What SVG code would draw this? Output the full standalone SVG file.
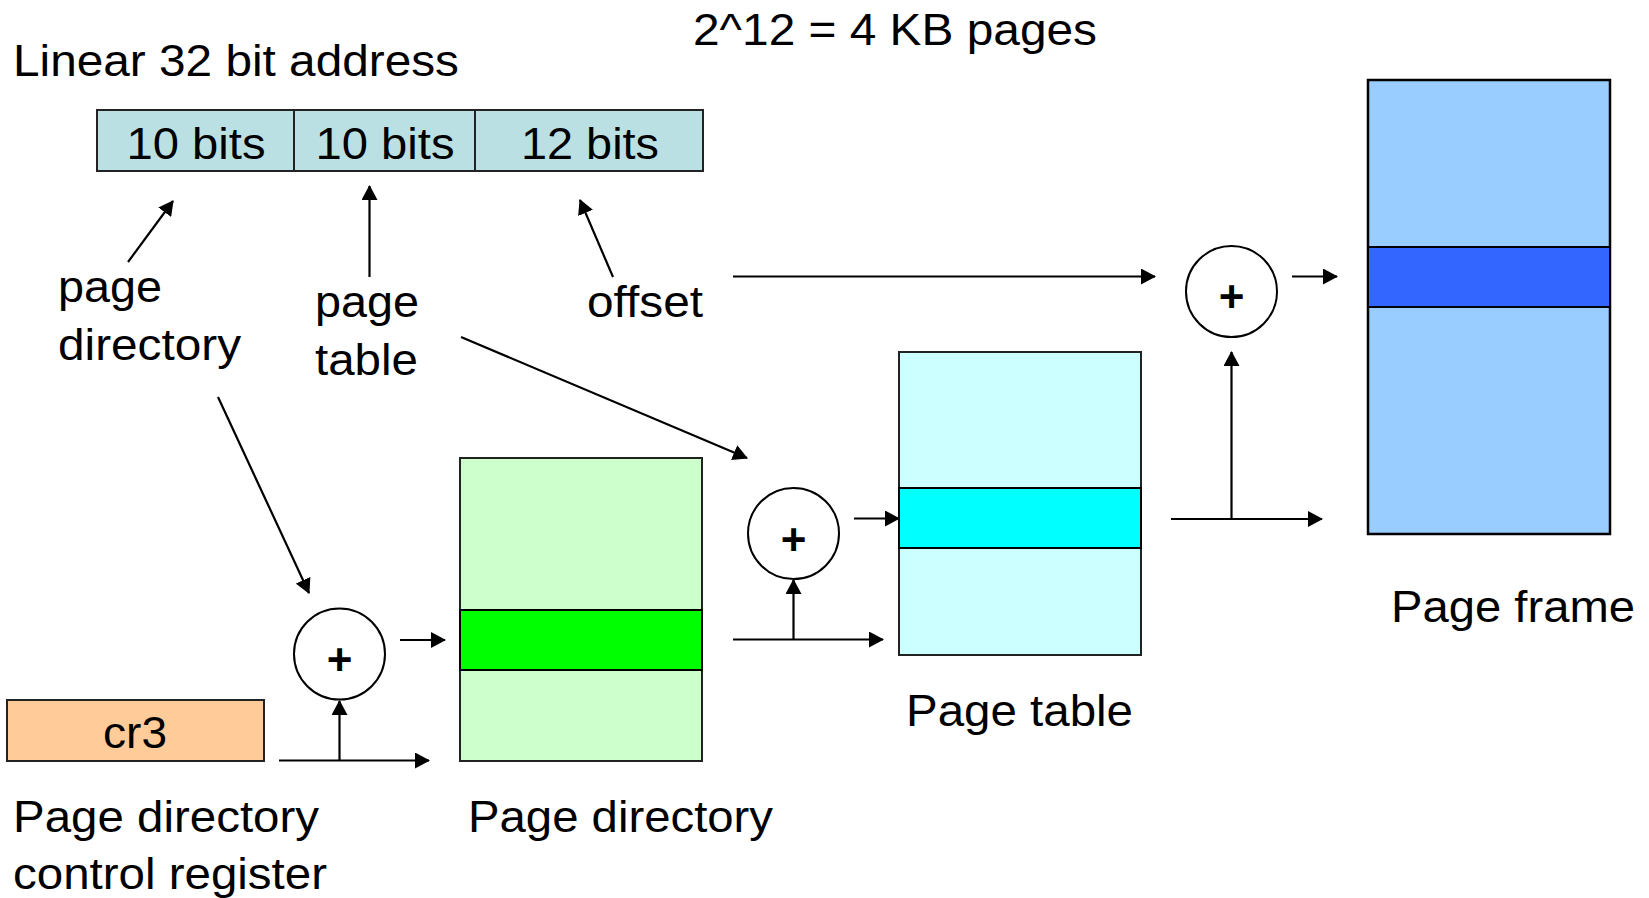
<svg xmlns="http://www.w3.org/2000/svg" width="1649" height="898" viewBox="0 0 1649 898">
<defs>
<style>
text{font-family:"Liberation Sans",Arial,sans-serif;font-size:44px;fill:#000}
.plus{font-size:44px;font-weight:bold;text-anchor:middle}
.mid{text-anchor:middle}
.box{stroke:#222;stroke-width:2}
.band{stroke:#000;stroke-width:2}
.circ{fill:#fff;stroke:#000;stroke-width:2}
.conn line{stroke:#000;stroke-width:2.2;fill:none}
.arr{marker-end:url(#ah)}
</style>
<marker id="ah" markerUnits="userSpaceOnUse" markerWidth="16" markerHeight="16" refX="14" refY="8" orient="auto">
<path d="M0,0 L15,8 L0,16 z" fill="#000"/>
</marker>
</defs>
<rect width="1649" height="898" fill="#fff"/>

<text x="13" y="76" textLength="446" lengthAdjust="spacingAndGlyphs">Linear 32 bit address</text>
<text x="693" y="45" textLength="404" lengthAdjust="spacingAndGlyphs">2^12 = 4 KB pages</text>

<g id="linear-address">
<rect class="box" x="97" y="110" width="606" height="61" fill="#BBE0E3"/>
<line x1="294" y1="110" x2="294" y2="171" stroke="#222" stroke-width="2"/>
<line x1="475" y1="110" x2="475" y2="171" stroke="#222" stroke-width="2"/>
<text class="mid" x="196" y="159" textLength="139" lengthAdjust="spacingAndGlyphs">10 bits</text>
<text class="mid" x="385" y="159" textLength="139" lengthAdjust="spacingAndGlyphs">10 bits</text>
<text class="mid" x="590" y="159" textLength="138" lengthAdjust="spacingAndGlyphs">12 bits</text>
</g>

<g id="label-page-directory">
<text x="58" y="302" textLength="104" lengthAdjust="spacingAndGlyphs">page</text>
<text x="58" y="360" textLength="183" lengthAdjust="spacingAndGlyphs">directory</text>
</g>
<g id="label-page-table">
<text x="315" y="317" textLength="104" lengthAdjust="spacingAndGlyphs">page</text>
<text x="315" y="375" textLength="103" lengthAdjust="spacingAndGlyphs">table</text>
</g>
<g id="label-offset">
<text x="587" y="317" textLength="116" lengthAdjust="spacingAndGlyphs">offset</text>
</g>

<g id="cr3">
<rect class="box" x="7" y="700" width="257" height="61" fill="#FFCC99"/>
<text class="mid" x="135" y="748" textLength="64" lengthAdjust="spacingAndGlyphs">cr3</text>
<text x="13" y="832" textLength="306" lengthAdjust="spacingAndGlyphs">Page directory</text>
<text x="13" y="889" textLength="314" lengthAdjust="spacingAndGlyphs">control register</text>
</g>

<g id="adder1">
<circle class="circ" cx="339.5" cy="654" r="45.5"/>
<text class="plus" x="339.5" y="675">+</text>
</g>
<g id="adder2">
<circle class="circ" cx="793.5" cy="533.5" r="45.5"/>
<text class="plus" x="793.5" y="554.5">+</text>
</g>
<g id="adder3">
<circle class="circ" cx="1231.5" cy="291.5" r="45.5"/>
<text class="plus" x="1231.5" y="311.5">+</text>
</g>

<g id="page-directory">
<rect class="box" x="460" y="458" width="242" height="303" fill="#CCFFCC"/>
<rect class="band" x="460" y="610" width="242" height="60" fill="#00FF00"/>
<text x="468" y="832" textLength="305" lengthAdjust="spacingAndGlyphs">Page directory</text>
</g>

<g id="page-table">
<rect class="box" x="899" y="352" width="242" height="303" fill="#CCFFFF"/>
<rect class="band" x="899" y="488" width="242" height="60" fill="#00FFFF"/>
<text x="906" y="726" textLength="227" lengthAdjust="spacingAndGlyphs">Page table</text>
</g>

<g id="page-frame">
<rect x="1368" y="80" width="242" height="454" fill="#99CCFF" stroke="#000" stroke-width="2.5"/>
<rect class="band" x="1368" y="247" width="242" height="60" fill="#3366FF"/>
<text x="1391" y="622" textLength="244" lengthAdjust="spacingAndGlyphs">Page frame</text>
</g>

<g id="connectors" class="conn">
<line class="arr" x1="128" y1="262" x2="173" y2="201"/>
<line class="arr" x1="369.5" y1="277" x2="369.5" y2="186"/>
<line class="arr" x1="613" y1="277" x2="580" y2="200"/>
<line class="arr" x1="733" y1="276.5" x2="1155" y2="276.5"/>
<line class="arr" x1="1292" y1="276.5" x2="1337" y2="276.5"/>
<line class="arr" x1="1171" y1="519" x2="1322" y2="519"/>
<line class="arr" x1="1231.5" y1="519" x2="1231.5" y2="352"/>
<line class="arr" x1="854" y1="518.5" x2="899" y2="518.5"/>
<line class="arr" x1="733" y1="639.5" x2="883" y2="639.5"/>
<line class="arr" x1="793.5" y1="639.5" x2="793.5" y2="580"/>
<line class="arr" x1="400" y1="640" x2="445" y2="640"/>
<line class="arr" x1="279" y1="760.5" x2="429" y2="760.5"/>
<line class="arr" x1="339.5" y1="760.5" x2="339.5" y2="701"/>
<line class="arr" x1="218" y1="397" x2="309" y2="593"/>
<line class="arr" x1="461" y1="337" x2="747" y2="458"/>
</g>
</svg>
